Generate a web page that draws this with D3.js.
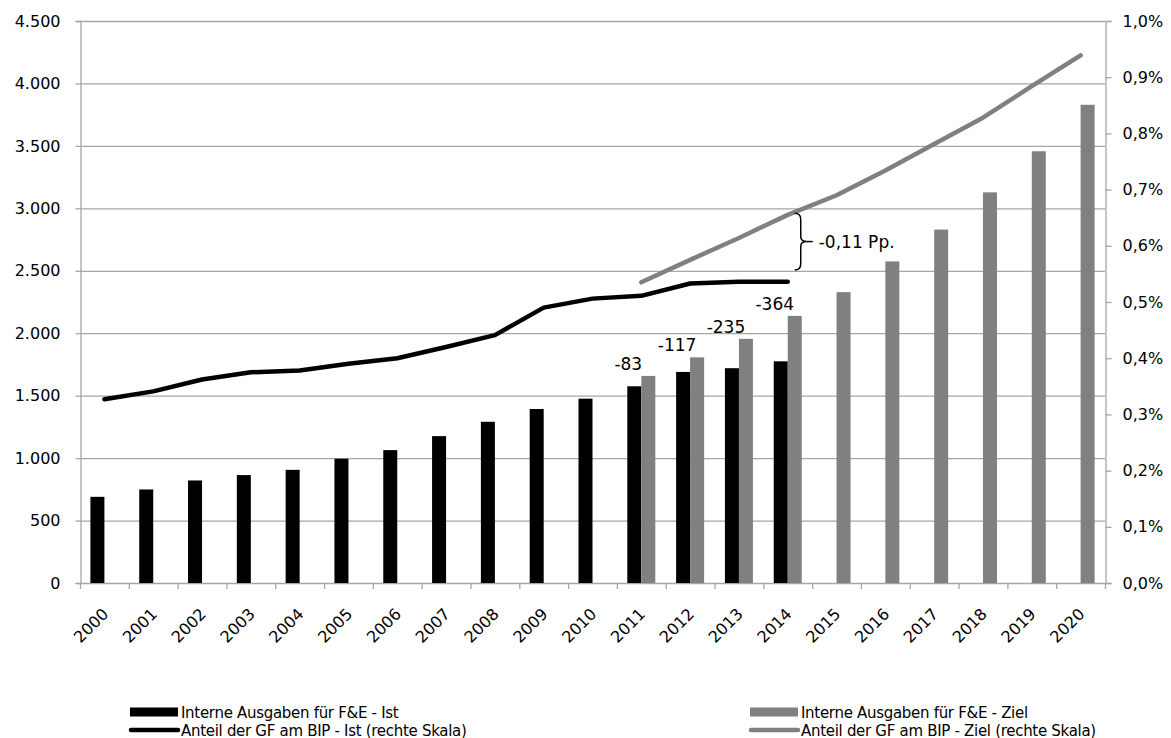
<!DOCTYPE html>
<html>
<head>
<meta charset="utf-8">
<script src="https://cdn.jsdelivr.net/npm/d3@7"></script>
<style>
  html, body { margin: 0; padding: 0; background: #fff; }
  svg { display: block; font-family: "DejaVu Sans", sans-serif; }
</style>
</head>
<body>
<svg id="chart" width="1171" height="738"></svg>
<script>
// ---- data ----
const years = ["2000","2001","2002","2003","2004","2005","2006","2007","2008","2009","2010",
               "2011","2012","2013","2014","2015","2016","2017","2018","2019","2020"];
const ausgabenIst  = [690, 749, 821, 864, 906, 995, 1064, 1176, 1291, 1393, 1476,
                      1575, 1690, 1720, 1775, null, null, null, null, null, null];
const ausgabenZiel = [null, null, null, null, null, null, null, null, null, null, null,
                      1658, 1807, 1955, 2139, 2329, 2575, 2830, 3128, 3457, 3829];
const anteilIst  = [0.327, 0.341, 0.362, 0.375, 0.378, 0.390, 0.400, 0.420, 0.441, 0.490, 0.506,
                    0.511, 0.533, 0.536, 0.536, null, null, null, null, null, null];
const anteilZiel = [null, null, null, null, null, null, null, null, null, null, null,
                    0.535, 0.575, 0.614, 0.655, 0.690, 0.734, 0.781, 0.828, 0.884, 0.939];
const diffYears  = ["2011","2012","2013","2014"];
const diffLabels = ["-83","-117","-235","-364"];
const leftTicks  = [0,500,1000,1500,2000,2500,3000,3500,4000,4500];
const rightTicks = [0,0.1,0.2,0.3,0.4,0.5,0.6,0.7,0.8,0.9,1.0];
const gapTop = 0.658, gapBottom = 0.557, gapText = "-0,11 Pp.";
const legendItems = [
  {label: "Interne Ausgaben für F&E - Ist", type: "rect", color: "#000"},
  {label: "Interne Ausgaben für F&E - Ziel", type: "rect", color: "#808080"},
  {label: "Anteil der GF am BIP - Ist (rechte Skala)", type: "line", color: "#000"},
  {label: "Anteil der GF am BIP - Ziel (rechte Skala)", type: "line", color: "#808080"}
];

// ---- setup ----
const loc = d3.formatLocale({decimal: ",", thousands: ".", grouping: [3], currency: ["", "€"]});
const fmtLeft = loc.format(",.0f");
const fmtRight = v => loc.format(".1f")(v) + "%";

const svg = d3.select("#chart");
const L = 80, R = 1105, T = 21, B = 583;
const gridColor = "#a6a6a6";

const x = d3.scaleBand().domain(years).range([L, R]).padding(0);
const bw = x.bandwidth();
const barW = 14;
const xSub = d3.scaleBand().domain(["ist","ziel"]).range([bw/2 - barW, bw/2 + barW]).padding(0);
const yL = d3.scaleLinear().domain([0, 4500]).range([B, T]);
const yR = d3.scaleLinear().domain([0, 1.0]).range([B, T]);

// gridlines
svg.append("g").selectAll("line").data(leftTicks.slice(1)).join("line")
  .attr("x1", L).attr("x2", R)
  .attr("y1", d => yL(d) + 0.5).attr("y2", d => yL(d) + 0.5)
  .attr("stroke", gridColor).attr("stroke-width", 1.3);

// left axis
const axL = svg.append("g").attr("transform", `translate(${L + 0.5},0)`)
  .call(d3.axisLeft(yL).tickValues(leftTicks).tickFormat(fmtLeft).tickSize(5).tickPadding(15));
axL.select(".domain").attr("stroke", gridColor).attr("stroke-width", 1.3);
axL.selectAll(".tick line").attr("stroke", gridColor).attr("stroke-width", 1.3);
axL.selectAll("text").attr("font-size", 16).attr("fill", "#000")
  .attr("font-family", "DejaVu Sans, sans-serif");

// right axis
const axR = svg.append("g").attr("transform", `translate(${R + 0.5},0)`)
  .call(d3.axisRight(yR).tickValues(rightTicks).tickFormat(fmtRight).tickSize(6).tickPadding(11));
axR.select(".domain").attr("stroke", gridColor).attr("stroke-width", 1.3);
axR.selectAll(".tick line").attr("stroke", gridColor).attr("stroke-width", 1.3);
axR.selectAll("text").attr("font-size", 16).attr("fill", "#000")
  .attr("font-family", "DejaVu Sans, sans-serif");

// bottom axis line + ticks at band boundaries
svg.append("line").attr("x1", L).attr("x2", R).attr("y1", B + 0.5).attr("y2", B + 0.5)
  .attr("stroke", gridColor).attr("stroke-width", 1.3);
const bounds = years.map(y => x(y)).concat([R]);
svg.append("g").selectAll("line").data(bounds).join("line")
  .attr("x1", d => d + 0.5).attr("x2", d => d + 0.5)
  .attr("y1", B).attr("y2", B + 6)
  .attr("stroke", gridColor).attr("stroke-width", 1.3);

// x labels
svg.append("g").selectAll("text").data(years).join("text")
  .attr("transform", d => `translate(${x(d) + bw/2 + 5},${B + 32}) rotate(-45)`)
  .attr("text-anchor", "end")
  .attr("font-size", 16)
  .text(d => d);

// bars
const rows = years.map((y, i) => ({year: y, ist: ausgabenIst[i], ziel: ausgabenZiel[i]}));
svg.append("g").selectAll("rect").data(rows.filter(d => d.ist != null)).join("rect")
  .attr("x", d => x(d.year) + xSub("ist")).attr("width", xSub.bandwidth())
  .attr("y", d => yL(d.ist)).attr("height", d => B - yL(d.ist))
  .attr("fill", "#000");
svg.append("g").selectAll("rect").data(rows.filter(d => d.ziel != null)).join("rect")
  .attr("x", d => x(d.year) + xSub("ziel")).attr("width", xSub.bandwidth())
  .attr("y", d => yL(d.ziel)).attr("height", d => B - yL(d.ziel))
  .attr("fill", "#808080");

// lines
const lineGen = d3.line()
  .defined(d => d.v != null)
  .x(d => x(d.year) + bw/2)
  .y(d => yR(d.v));
svg.append("path")
  .datum(years.map((y, i) => ({year: y, v: anteilIst[i]})))
  .attr("d", lineGen).attr("fill", "none").attr("stroke", "#000")
  .attr("stroke-width", 4.5).attr("stroke-linecap", "round").attr("stroke-linejoin", "round");
svg.append("path")
  .datum(years.map((y, i) => ({year: y, v: anteilZiel[i]})))
  .attr("d", lineGen).attr("fill", "none").attr("stroke", "#808080")
  .attr("stroke-width", 4.5).attr("stroke-linecap", "round").attr("stroke-linejoin", "round");

// difference labels
svg.append("g").selectAll("text").data(diffYears).join("text")
  .attr("x", d => x(d) + bw/2 - 13)
  .attr("y", d => yL(ausgabenZiel[years.indexOf(d)]) - 6)
  .attr("text-anchor", "middle").attr("font-size", 17)
  .text((d, i) => diffLabels[i]);

// brace annotation
const bx = x("2014") + bw/2 + 7;
const y1 = yR(gapTop), y2 = yR(gapBottom), ym = (y1 + y2) / 2;
const w = 6;
svg.append("path")
  .attr("d", `M${bx},${y1} Q${bx + w},${y1} ${bx + w},${y1 + 6} L${bx + w},${ym - 5} Q${bx + w},${ym} ${bx + w + 6},${ym}` +
             ` Q${bx + w},${ym} ${bx + w},${ym + 5} L${bx + w},${y2 - 6} Q${bx + w},${y2} ${bx},${y2}`)
  .attr("fill", "none").attr("stroke", "#000").attr("stroke-width", 1.5);
svg.append("line").attr("x1", bx + w + 6).attr("x2", bx + w + 12).attr("y1", ym).attr("y2", ym)
  .attr("stroke", "#000").attr("stroke-width", 1.5);
svg.append("text").attr("x", bx + w + 18).attr("y", ym + 6).attr("font-size", 17).text(gapText);

// legend
const legPos = [{x: 130, y: 712}, {x: 750, y: 712}, {x: 130, y: 730}, {x: 750, y: 730}];
const leg = svg.append("g").selectAll("g").data(legendItems).join("g")
  .attr("transform", (d, i) => `translate(${legPos[i].x},${legPos[i].y})`);
leg.filter(d => d.type === "rect").append("rect")
  .attr("x", 0).attr("y", -4.5).attr("width", 48).attr("height", 9).attr("fill", d => d.color);
leg.filter(d => d.type === "line").append("line")
  .attr("x1", 1).attr("x2", 48).attr("y1", 0).attr("y2", 0)
  .attr("stroke", d => d.color).attr("stroke-width", 4.5).attr("stroke-linecap", "round");
leg.append("text").attr("x", 51).attr("y", 5.5).attr("font-size", 15)
  .attr("letter-spacing", -0.3).text(d => d.label);
</script>
</body>
</html>
